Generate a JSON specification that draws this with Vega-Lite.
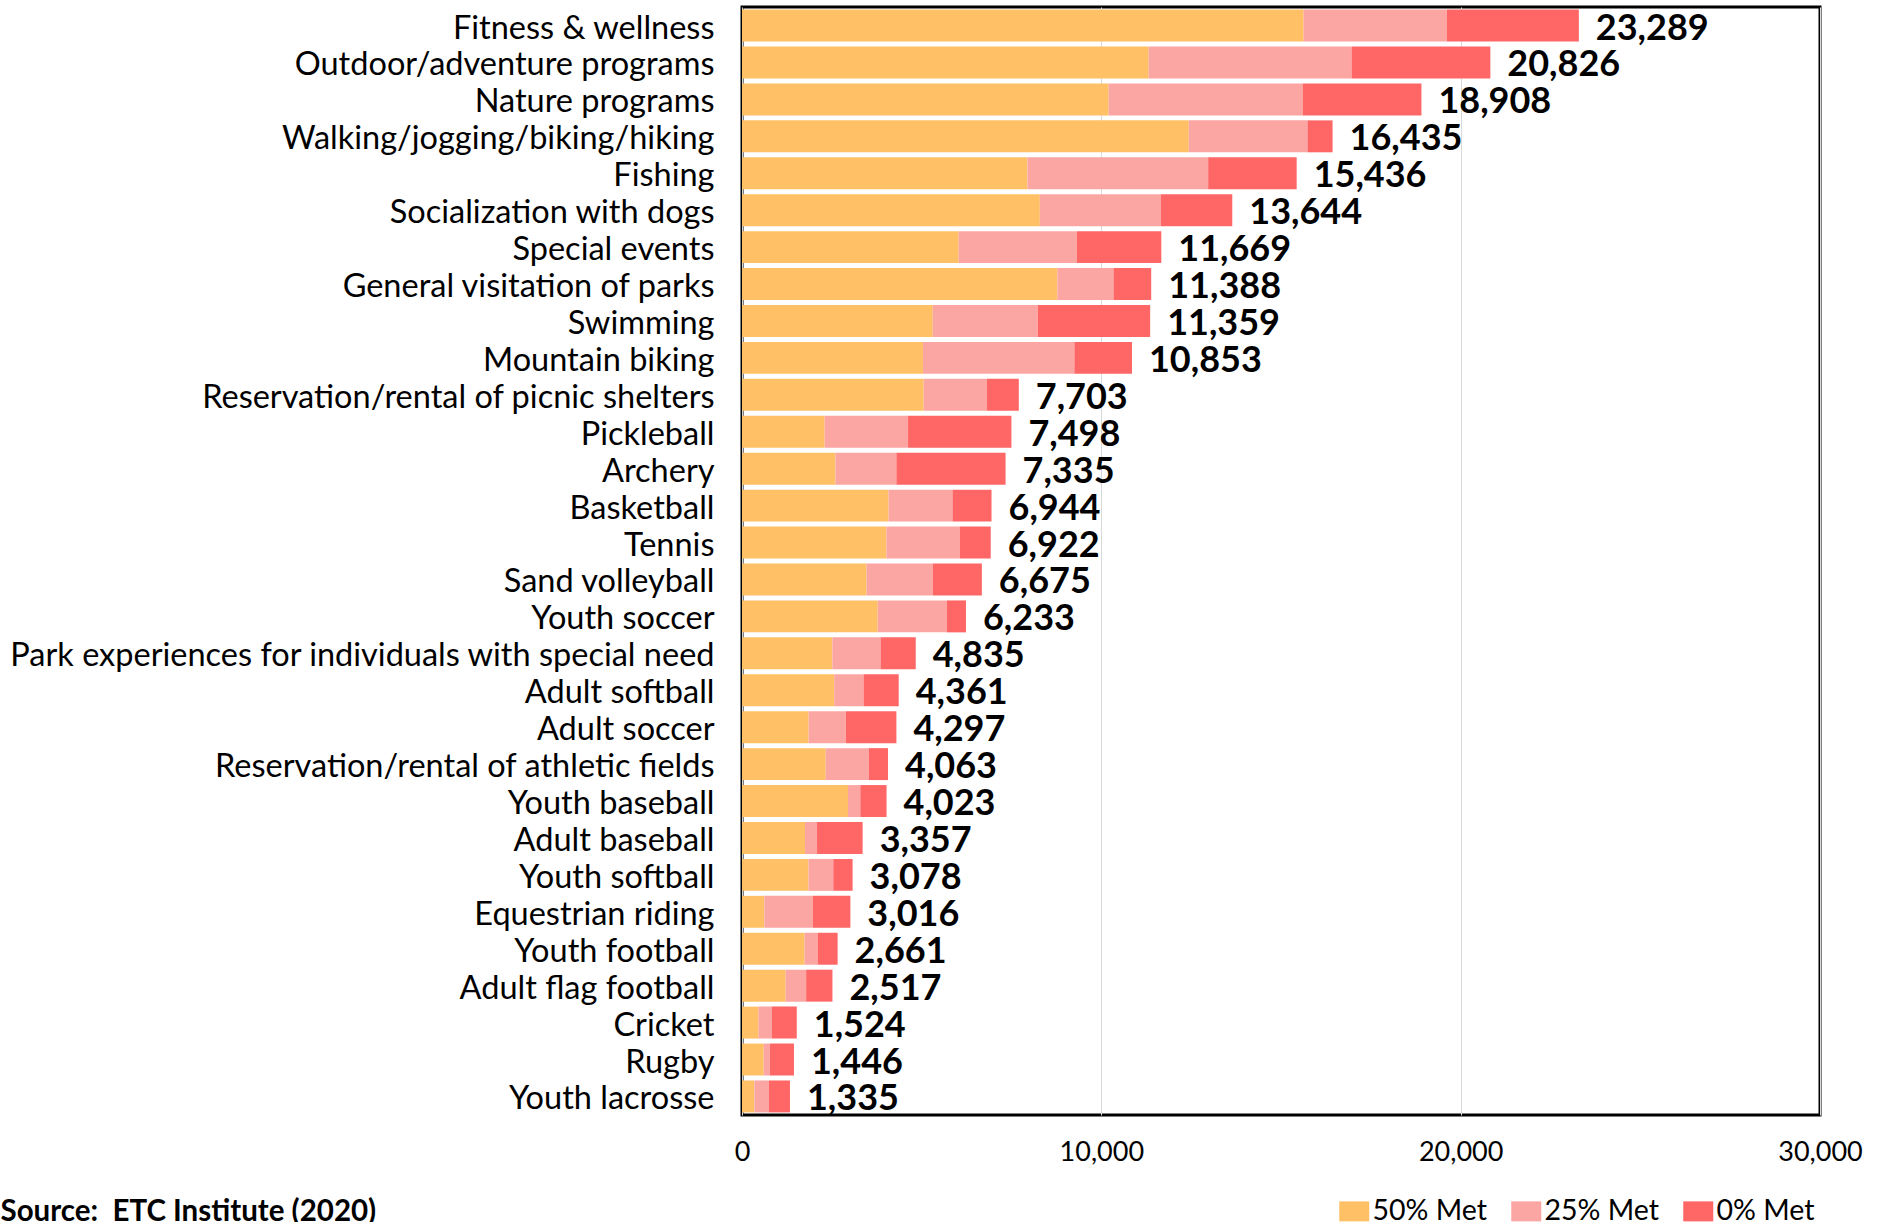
{
  "$schema": "https://vega.github.io/schema/vega-lite/v6.json",
  "autosize": {"type": "none"},
  "padding": {"left": 742, "top": 7, "right": 65, "bottom": 107},
  "width": 1078,
  "height": 1108,
  "background": "white",
  "config": {
    "font": "Lato",
    "view": {"stroke": "black", "strokeWidth": 3}
  },
  "data": {
    "values": [
      {"activity": "Fitness & wellness", "50% Met": 15630, "25% Met": 3985, "0% Met": 3674, "total": 23289},
      {"activity": "Outdoor/adventure programs", "50% Met": 11317, "25% Met": 5648, "0% Met": 3861, "total": 20826},
      {"activity": "Nature programs", "50% Met": 10203, "25% Met": 5399, "0% Met": 3306, "total": 18908},
      {"activity": "Walking/jogging/biking/hiking", "50% Met": 12434, "25% Met": 3303, "0% Met": 698, "total": 16435},
      {"activity": "Fishing", "50% Met": 7944, "25% Met": 5029, "0% Met": 2463, "total": 15436},
      {"activity": "Socialization with dogs", "50% Met": 8289, "25% Met": 3365, "0% Met": 1990, "total": 13644},
      {"activity": "Special events", "50% Met": 6030, "25% Met": 3293, "0% Met": 2346, "total": 11669},
      {"activity": "General visitation of parks", "50% Met": 8777, "25% Met": 1562, "0% Met": 1049, "total": 11388},
      {"activity": "Swimming", "50% Met": 5309, "25% Met": 2922, "0% Met": 3128, "total": 11359},
      {"activity": "Mountain biking", "50% Met": 5036, "25% Met": 4214, "0% Met": 1603, "total": 10853},
      {"activity": "Reservation/rental of picnic shelters", "50% Met": 5057, "25% Met": 1760, "0% Met": 886, "total": 7703},
      {"activity": "Pickleball", "50% Met": 2300, "25% Met": 2321, "0% Met": 2877, "total": 7498},
      {"activity": "Archery", "50% Met": 2601, "25% Met": 1695, "0% Met": 3039, "total": 7335},
      {"activity": "Basketball", "50% Met": 4079, "25% Met": 1779, "0% Met": 1086, "total": 6944},
      {"activity": "Tennis", "50% Met": 4021, "25% Met": 2037, "0% Met": 864, "total": 6922},
      {"activity": "Sand volleyball", "50% Met": 3465, "25% Met": 1845, "0% Met": 1365, "total": 6675},
      {"activity": "Youth soccer", "50% Met": 3778, "25% Met": 1921, "0% Met": 534, "total": 6233},
      {"activity": "Park experiences for individuals with special need", "50% Met": 2514, "25% Met": 1343, "0% Met": 978, "total": 4835},
      {"activity": "Adult softball", "50% Met": 2567, "25% Met": 816, "0% Met": 978, "total": 4361},
      {"activity": "Adult soccer", "50% Met": 1854, "25% Met": 1039, "0% Met": 1404, "total": 4297},
      {"activity": "Reservation/rental of athletic fields", "50% Met": 2331, "25% Met": 1197, "0% Met": 535, "total": 4063},
      {"activity": "Youth baseball", "50% Met": 2950, "25% Met": 343, "0% Met": 730, "total": 4023},
      {"activity": "Adult baseball", "50% Met": 1754, "25% Met": 334, "0% Met": 1269, "total": 3357},
      {"activity": "Youth softball", "50% Met": 1851, "25% Met": 689, "0% Met": 538, "total": 3078},
      {"activity": "Equestrian riding", "50% Met": 623, "25% Met": 1352, "0% Met": 1041, "total": 3016},
      {"activity": "Youth football", "50% Met": 1742, "25% Met": 363, "0% Met": 556, "total": 2661},
      {"activity": "Adult flag football", "50% Met": 1215, "25% Met": 570, "0% Met": 732, "total": 2517},
      {"activity": "Cricket", "50% Met": 461, "25% Met": 365, "0% Met": 698, "total": 1524},
      {"activity": "Rugby", "50% Met": 604, "25% Met": 173, "0% Met": 669, "total": 1446},
      {"activity": "Youth lacrosse", "50% Met": 345, "25% Met": 398, "0% Met": 592, "total": 1335}
    ]
  },
  "encoding": {
    "y": {
      "field": "activity",
      "type": "nominal",
      "sort": [
        "Fitness & wellness", "Outdoor/adventure programs", "Nature programs", "Walking/jogging/biking/hiking",
        "Fishing", "Socialization with dogs", "Special events", "General visitation of parks", "Swimming",
        "Mountain biking", "Reservation/rental of picnic shelters", "Pickleball", "Archery", "Basketball",
        "Tennis", "Sand volleyball", "Youth soccer", "Park experiences for individuals with special need",
        "Adult softball", "Adult soccer", "Reservation/rental of athletic fields", "Youth baseball",
        "Adult baseball", "Youth softball", "Equestrian riding", "Youth football", "Adult flag football",
        "Cricket", "Rugby", "Youth lacrosse"
      ],
      "scale": {"paddingInner": 0.135, "paddingOuter": 0.07},
      "axis": {
        "title": null,
        "domain": false,
        "ticks": false,
        "labelPadding": 28,
        "labelOffset": 3,
        "labelFontSize": 32.5,
        "labelColor": "black",
        "labelLimit": 0
      }
    }
  },
  "layer": [
    {
      "transform": [
        {"fold": ["50% Met", "25% Met", "0% Met"], "as": ["level", "value"]}
      ],
      "mark": {"type": "bar"},
      "encoding": {
        "x": {
          "field": "value",
          "type": "quantitative",
          "stack": "zero",
          "scale": {"domain": [0, 30000], "nice": false},
          "axis": {
            "title": "Source:\u00a0 ETC Institute (2020)",
            "titleX": -742,
            "titleY": 105,
            "titleAlign": "left",
            "titleAnchor": "start",
            "titleBaseline": "alphabetic",
            "titleFontSize": 29.5,
            "titleFontWeight": "bold",
            "titleColor": "black",
            "values": [0, 10000, 20000, 30000],
            "format": ",.0f",
            "labelFlush": false,
            "domain": false,
            "ticks": false,
            "grid": true,
            "gridColor": "#D9D9D9",
            "gridWidth": 1,
            "labelFontSize": 27,
            "labelColor": "black",
            "labelPadding": 24
          }
        },
        "color": {
          "field": "level",
          "type": "nominal",
          "scale": {
            "domain": ["50% Met", "25% Met", "0% Met"],
            "range": ["#FFC066", "#FBA6A3", "#FF6666"]
          },
          "legend": {
            "title": null,
            "orient": "none",
            "direction": "horizontal",
            "legendX": 598,
            "legendY": 1190,
            "symbolType": "M-1.5,-1H1.5V1H-1.5Z",
            "symbolSize": 400,
            "symbolStrokeWidth": 0,
            "symbolOpacity": 1,
            "labelFontSize": 28.5,
            "labelColor": "black",
            "labelOffset": 4,
            "labelLimit": 0,
            "columnPadding": 24
          }
        },
        "order": {"field": "level", "sort": "descending"}
      }
    },
    {
      "mark": {
        "type": "text",
        "align": "left",
        "baseline": "middle",
        "dx": 17,
        "dy": 3,
        "fontSize": 36,
        "fontWeight": "bold",
        "color": "black"
      },
      "encoding": {
        "x": {
          "field": "total",
          "type": "quantitative",
          "axis": {
            "title": "Source:\u00a0 ETC Institute (2020)",
            "titleX": -742,
            "titleY": 105,
            "titleAlign": "left",
            "titleAnchor": "start",
            "titleBaseline": "alphabetic",
            "titleFontSize": 29.5,
            "titleFontWeight": "bold",
            "titleColor": "black",
            "values": [0, 10000, 20000, 30000],
            "format": ",.0f",
            "labelFlush": false,
            "domain": false,
            "ticks": false,
            "grid": true,
            "gridColor": "#D9D9D9",
            "gridWidth": 1,
            "labelFontSize": 27,
            "labelColor": "black",
            "labelPadding": 24
          }
        },
        "text": {"field": "total", "type": "quantitative", "format": ","}
      }
    }
  ]
}
